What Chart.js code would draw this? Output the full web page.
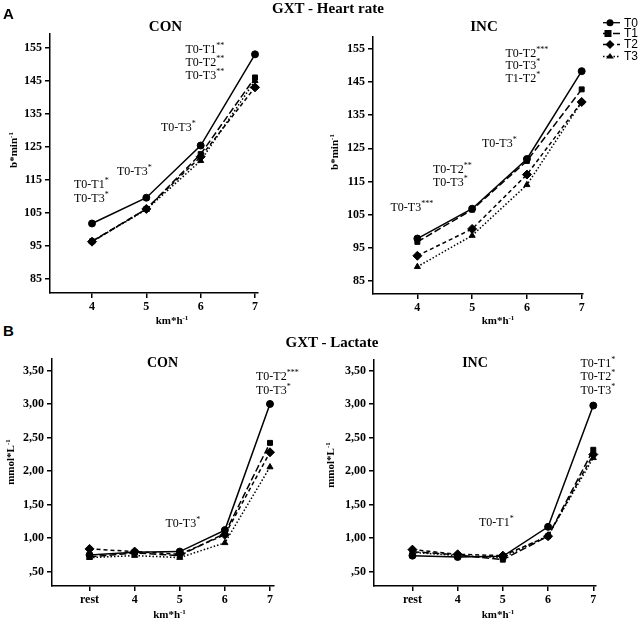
<!DOCTYPE html>
<html><head><meta charset="utf-8">
<script src="https://cdn.jsdelivr.net/npm/chart.js@4.4.1/dist/chart.umd.min.js"></script>
<style>
html,body{margin:0;padding:0;background:#fff}
body{width:642px;height:622px;position:relative;overflow:hidden;color:#000}
.cv{position:absolute}
.t{position:absolute;white-space:nowrap;line-height:1;font-family:'Liberation Serif',serif;font-weight:bold}
.lbl{position:absolute;white-space:nowrap;line-height:1;font-family:'Liberation Sans',sans-serif;font-weight:bold;font-size:15px}
.ax{position:absolute;white-space:nowrap;line-height:1;font-family:'Liberation Serif',serif;font-weight:bold;font-size:11px}
.ax sup{font-size:7px;position:relative;top:-4px;vertical-align:baseline;line-height:0}
.rot{transform:translate(-50%,-50%) rotate(-90deg)}
.hc{transform:translateX(-50%)}
.ann{position:absolute;white-space:nowrap;font-family:'Liberation Serif',serif;font-size:12px;line-height:13.5px}
.ann sup{font-size:8px;position:relative;top:-5px;vertical-align:baseline;line-height:0}
</style>
</head><body>
<canvas id="aCon" class="cv" style="left:0px;top:10px" width="275" height="310"></canvas>
<canvas id="aInc" class="cv" style="left:320px;top:10px" width="322" height="310"></canvas>
<canvas id="bCon" class="cv" style="left:0px;top:340px" width="290" height="272"></canvas>
<canvas id="bInc" class="cv" style="left:320px;top:340px" width="322" height="272"></canvas>

<div class="lbl" style="left:3px;top:5.5px">A</div>
<div class="t hc" style="left:328px;top:1px;font-size:15px">GXT - Heart rate</div>
<div class="t hc" style="left:165.5px;top:19px;font-size:15px">CON</div>
<div class="t hc" style="left:484px;top:19px;font-size:15px">INC</div>
<div class="lbl" style="left:3px;top:322.5px">B</div>
<div class="t hc" style="left:332px;top:335px;font-size:15px">GXT - Lactate</div>
<div class="t hc" style="left:162.5px;top:355.5px;font-size:14px">CON</div>
<div class="t hc" style="left:475px;top:355.5px;font-size:14px">INC</div>

<div class="ax rot" style="left:13px;top:150px">b*min<sup>-1</sup></div>
<div class="ax rot" style="left:334px;top:152px">b*min<sup>-1</sup></div>
<div class="ax rot" style="left:10px;top:462px">mmol*L<sup>-1</sup></div>
<div class="ax rot" style="left:330px;top:465px">mmol*L<sup>-1</sup></div>
<div class="ax hc" style="left:172px;top:315px">km*h<sup>-1</sup></div>
<div class="ax hc" style="left:498px;top:315px">km*h<sup>-1</sup></div>
<div class="ax hc" style="left:169.5px;top:609px">km*h<sup>-1</sup></div>
<div class="ax hc" style="left:498px;top:609px">km*h<sup>-1</sup></div>

<div class="ann" style="left:74px;top:177px;line-height:14px">T0-T1<sup>*</sup><br>T0-T3<sup>*</sup></div>
<div class="ann" style="left:117px;top:165px">T0-T3<sup>*</sup></div>
<div class="ann" style="left:161px;top:121px">T0-T3<sup>*</sup></div>
<div class="ann" style="left:185.5px;top:43px;line-height:13px">T0-T1<sup>**</sup><br>T0-T2<sup>**</sup><br>T0-T3<sup>**</sup></div>

<div class="ann" style="left:390.5px;top:201px">T0-T3<sup>***</sup></div>
<div class="ann" style="left:433px;top:163px;line-height:13.3px">T0-T2<sup>**</sup><br>T0-T3<sup>*</sup></div>
<div class="ann" style="left:482px;top:137px">T0-T3<sup>*</sup></div>
<div class="ann" style="left:505.5px;top:46.5px;line-height:12.9px">T0-T2<sup>***</sup><br>T0-T3<sup>*</sup><br>T1-T2<sup>*</sup></div>

<div class="ann" style="left:165.5px;top:516.5px">T0-T3<sup>*</sup></div>
<div class="ann" style="left:256px;top:369px;line-height:14px">T0-T2<sup>***</sup><br>T0-T3<sup>*</sup></div>

<div class="ann" style="left:479px;top:516px">T0-T1<sup>*</sup></div>
<div class="ann" style="left:580.5px;top:356.5px;line-height:13.7px">T0-T1<sup>*</sup><br>T0-T2<sup>*</sup><br>T0-T3<sup>*</sup></div>

<script>
// ---------- DATA ----------
const seriesNames = ['T0', 'T1', 'T2', 'T3'];

const speeds = [4, 5, 6, 7];
const hrTicks = [85, 95, 105, 115, 125, 135, 145, 155];

const hrConT0 = [101.8, 109.6, 125.4, 153.0];
const hrConT1 = [96.4, 106.2, 122.8, 146.0];
const hrConT2 = [96.3, 106.2, 122.0, 143.0];
const hrConT3 = [96.3, 106.0, 120.8, 145.0];

const hrIncT0 = [97.8, 106.8, 121.8, 148.3];
const hrIncT1 = [96.8, 106.5, 121.2, 142.8];
const hrIncT2 = [92.6, 100.7, 117.1, 139.0];
const hrIncT3 = [89.3, 98.7, 114.0, 139.0];

const lacStages = ['rest', '4', '5', '6', '7'];
const lacTicks = [0.5, 1.0, 1.5, 2.0, 2.5, 3.0, 3.5];
const lacTickLabels = [',50', '1,00', '1,50', '2,00', '2,50', '3,00', '3,50'];

const lacConT0 = [0.75, 0.79, 0.80, 1.12, 3.00];
const lacConT1 = [0.72, 0.78, 0.74, 1.07, 2.42];
const lacConT2 = [0.84, 0.80, 0.76, 1.05, 2.28];
const lacConT3 = [0.71, 0.74, 0.71, 0.93, 2.06];

const lacIncT0 = [0.74, 0.72, 0.73, 1.17, 2.98];
const lacIncT1 = [0.80, 0.75, 0.68, 1.03, 2.32];
const lacIncT2 = [0.83, 0.76, 0.74, 1.03, 2.25];
const lacIncT3 = [0.79, 0.74, 0.71, 1.04, 2.20];

// ---------- STYLES ----------
const seriesStyles = [
  { pointStyle: 'circle',   borderDash: [],       pointRadius: 3.5 },
  { pointStyle: 'rect',     borderDash: [7, 3],   pointRadius: 3.5 },
  { pointStyle: 'rectRot',  borderDash: [4, 3],   pointRadius: 4.5 },
  { pointStyle: 'triangle', borderDash: [1.5, 2], pointRadius: 3.5 }
];
const tickFont = { family: "'Liberation Serif', serif", size: 12, weight: 'bold' };

function buildDatasets(xVals, seriesList) {
  return seriesList.map((vals, i) => Object.assign({
    label: seriesNames[i],
    data: vals.map((v, j) => ({ x: xVals[j], y: v })),
    borderColor: '#000',
    backgroundColor: '#000',
    pointBackgroundColor: '#000',
    pointBorderColor: '#000',
    pointBorderWidth: 1,
    borderWidth: 1.5,
    tension: 0,
    clip: false
  }, seriesStyles[i]));
}

function axisCommon() {
  return {
    grid: { display: true, drawOnChartArea: false, drawTicks: true, tickLength: 5, color: '#000', lineWidth: 1.5 },
    border: { display: true, color: '#000', width: 1.5 }
  };
}

function makeChart(id, g, xVals, xTickVals, xLabelFn, yTickVals, yLabelFn, seriesList, extraPlugins) {
  const x = axisCommon();
  Object.assign(x, {
    type: 'linear', min: g.xmin, max: g.xmax,
    afterBuildTicks: s => { s.ticks = xTickVals.map(v => ({ value: v })); },
    afterFit: s => { s.height = g.xh; },
    ticks: { font: tickFont, color: '#000', padding: 2, maxRotation: 0, callback: (v) => xLabelFn(v) }
  });
  const y = axisCommon();
  Object.assign(y, {
    type: 'linear', min: g.ymin, max: g.ymax,
    afterBuildTicks: s => { s.ticks = yTickVals.map(v => ({ value: v })); },
    afterFit: s => { s.width = g.yw; },
    ticks: { font: tickFont, color: '#000', padding: 3, callback: (v) => yLabelFn(v) }
  });
  return new Chart(document.getElementById(id), {
    type: 'line',
    data: { datasets: buildDatasets(xVals, seriesList) },
    options: {
      responsive: false, animation: false, devicePixelRatio: 1,
      layout: { padding: { top: g.pt, right: g.pr, left: 0, bottom: 0 } },
      plugins: { legend: { display: false }, tooltip: { enabled: false } },
      scales: { x: x, y: y }
    },
    plugins: extraPlugins || []
  });
}

// Legend drawn from the datasets' own styles
function drawMarker(ctx, style, x, y, r) {
  ctx.beginPath();
  if (style === 'circle') { ctx.arc(x, y, r, 0, Math.PI * 2); }
  else if (style === 'rect') { ctx.rect(x - r, y - r, 2 * r, 2 * r); }
  else if (style === 'rectRot') { ctx.moveTo(x, y - r); ctx.lineTo(x + r, y); ctx.lineTo(x, y + r); ctx.lineTo(x - r, y); ctx.closePath(); }
  else if (style === 'triangle') { const h = r * 1.5; ctx.moveTo(x, y - r); ctx.lineTo(x + h * 0.75, y + r * 0.55); ctx.lineTo(x - h * 0.75, y + r * 0.55); ctx.closePath(); }
  ctx.fill();
}
const legendPlugin = {
  id: 'customLegend',
  afterDraw(chart) {
    const ctx = chart.ctx;
    const rowsY = [12.7, 23.5, 34.5, 46.5];
    const x0 = 283, x1 = 300, mx = 290, tx = 304;
    ctx.save();
    chart.data.datasets.forEach((ds, i) => {
      const yy = rowsY[i];
      ctx.strokeStyle = '#000'; ctx.fillStyle = '#000'; ctx.lineWidth = 1.3;
      ctx.setLineDash(ds.borderDash || []);
      ctx.beginPath(); ctx.moveTo(x0, yy); ctx.lineTo(x1, yy); ctx.stroke();
      ctx.setLineDash([]);
      drawMarker(ctx, ds.pointStyle, ds.pointStyle === 'rect' ? mx - 2 : mx, yy, ds.pointStyle === 'rectRot' ? 4.5 : 3.5);
      ctx.font = "12px 'Liberation Sans', sans-serif";
      ctx.textBaseline = 'middle'; ctx.textAlign = 'left';
      ctx.fillText(ds.label, tx, yy + 0.5);
    });
    ctx.restore();
  }
};

const hrLabel = v => String(v);
const speedLabel = v => String(v);
const stageIdx = lacStages.map((s, i) => i);
const stageLabel = v => lacStages[Math.round(v)];
const lacLabel = v => lacTickLabels[lacTicks.indexOf(v)];

makeChart('aCon', { xmin: 3.227, xmax: 7.055, ymin: 80.76, ymax: 159.15, yw: 50, xh: 27, pt: 24, pr: 17 },
  speeds, speeds, speedLabel, hrTicks, hrLabel, [hrConT0, hrConT1, hrConT2, hrConT3]);

makeChart('aInc', { xmin: 3.19, xmax: 7.024, ymin: 81.07, ymax: 158.6, yw: 53, xh: 26, pt: 27, pr: 59 },
  speeds, speeds, speedLabel, hrTicks, hrLabel, [hrIncT0, hrIncT1, hrIncT2, hrIncT3], [legendPlugin]);

makeChart('bCon', { xmin: -0.832, xmax: 4.089, ymin: 0.287, ymax: 3.67, yw: 52, xh: 26, pt: 19, pr: 16 },
  stageIdx, stageIdx, stageLabel, lacTicks, lacLabel, [lacConT0, lacConT1, lacConT2, lacConT3]);

makeChart('bInc', { xmin: -0.85, xmax: 4.06, ymin: 0.287, ymax: 3.66, yw: 54, xh: 26, pt: 20, pr: 46 },
  stageIdx, stageIdx, stageLabel, lacTicks, lacLabel, [lacIncT0, lacIncT1, lacIncT2, lacIncT3]);
</script>
</body></html>
